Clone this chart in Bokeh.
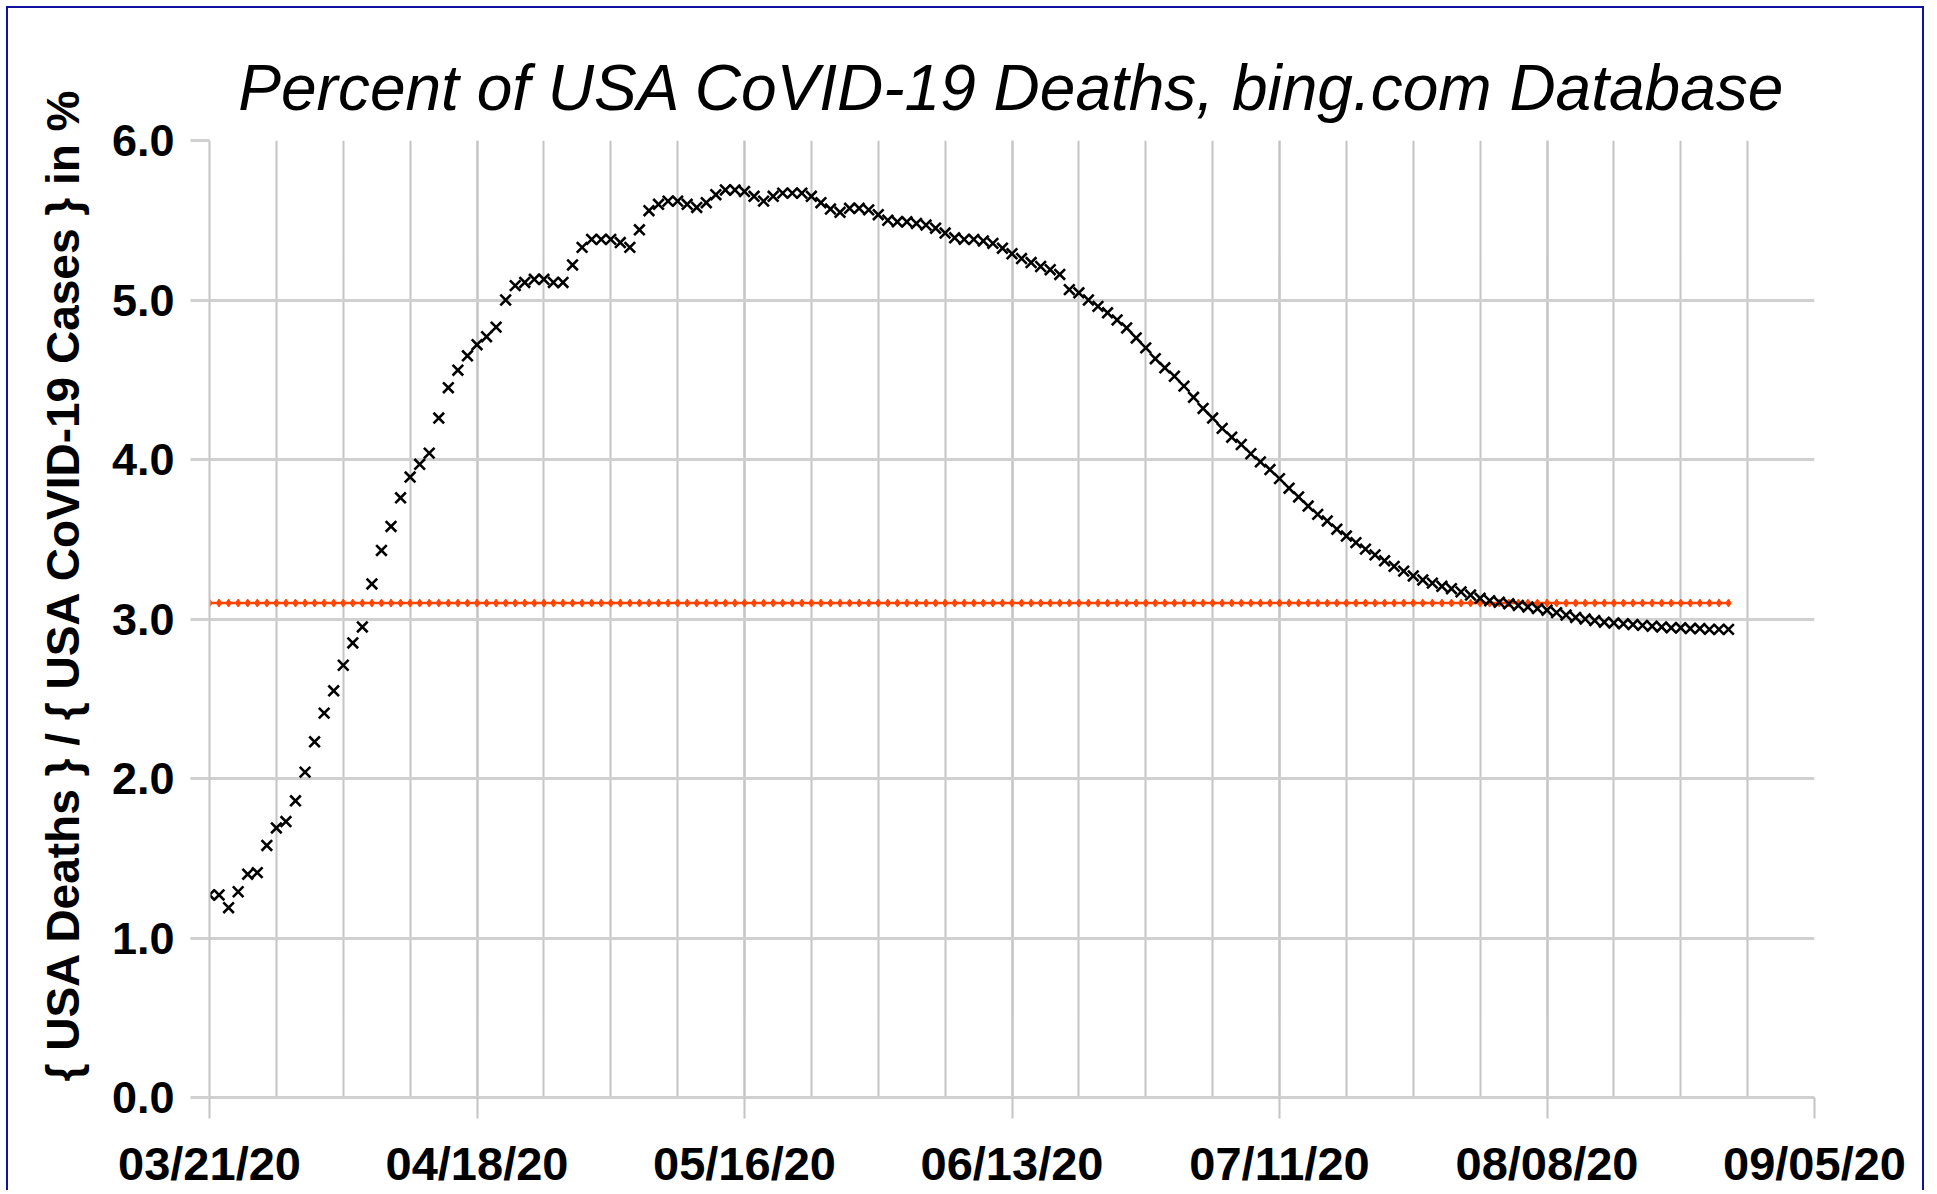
from datetime import datetime, timedelta

from bokeh.plotting import figure
from bokeh.models import (Range1d, FixedTicker, DatetimeTickFormatter,
                          PrintfTickFormatter, Title)
from bokeh.embed import file_html
from bokeh.resources import INLINE

# ---------------- data ----------------
start_date = "03/21/20"
tick_labels = ["03/21/20", "04/18/20", "05/16/20", "06/13/20",
               "07/11/20", "08/08/20", "09/05/20"]
y_ticks = [0.0, 1.0, 2.0, 3.0, 4.0, 5.0, 6.0]

# daily percent of deaths / cases, one value per day starting 03/21/20
pct = [
    1.27, 1.27, 1.19, 1.29, 1.40, 1.41, 1.58, 1.69, 1.73, 1.86,
    2.04, 2.23, 2.41, 2.55, 2.71, 2.85, 2.95, 3.22, 3.43, 3.58,
    3.76, 3.89, 3.97, 4.04, 4.26, 4.45, 4.56, 4.65, 4.72, 4.77,
    4.83, 5.00, 5.09, 5.11, 5.13, 5.13, 5.11, 5.11, 5.22, 5.33,
    5.38, 5.38, 5.38, 5.36, 5.33, 5.44, 5.56, 5.60, 5.62, 5.62,
    5.60, 5.58, 5.61, 5.66, 5.69, 5.69, 5.68, 5.65, 5.62, 5.65,
    5.67, 5.67, 5.67, 5.65, 5.61, 5.57, 5.55, 5.575, 5.575, 5.565,
    5.535, 5.50, 5.49, 5.49, 5.48, 5.47, 5.45, 5.42, 5.39, 5.38,
    5.38, 5.37, 5.355, 5.325, 5.29, 5.26, 5.235, 5.21, 5.19, 5.16,
    5.065, 5.045, 5.00, 4.96, 4.92, 4.875, 4.825, 4.762, 4.70, 4.632,
    4.575, 4.522, 4.46, 4.39, 4.32, 4.26, 4.195, 4.14, 4.094, 4.036,
    3.985, 3.937, 3.88, 3.82, 3.765, 3.708, 3.656, 3.615, 3.563, 3.52,
    3.479, 3.438, 3.402, 3.365, 3.33, 3.30, 3.27, 3.245, 3.225, 3.205,
    3.19, 3.17, 3.15, 3.13, 3.115, 3.105, 3.095, 3.085, 3.075, 3.065,
    3.055, 3.04, 3.025, 3.01, 3.00, 2.99, 2.98, 2.975, 2.97, 2.965,
    2.96, 2.955, 2.95, 2.945, 2.945, 2.94, 2.94, 2.935, 2.935, 2.935,
]
# reference level drawn as red markers, one per day
ref_level = [3.10] * len(pct)

title_text = "Percent of USA CoVID-19 Deaths, bing.com Database"
y_label = "{ USA Deaths } / { USA CoVID-19 Cases } in %"

# ---------------- derived ----------------
t0 = datetime.strptime(start_date, "%m/%d/%y")
dates = [t0 + timedelta(days=i) for i in range(len(pct))]
tick_dates = [datetime.strptime(s, "%m/%d/%y") for s in tick_labels]

def ms(d):
    return (d - datetime(1970, 1, 1)).total_seconds() * 1000.0

major_ms = [ms(d) for d in tick_dates]
n_weeks = int((tick_dates[-1] - tick_dates[0]).days / 7)
minor_ms = [ms(tick_dates[0] + timedelta(days=7 * k)) for k in range(n_weeks + 1)]

FONT = "Liberation Sans"
GRID_V = "#c4c4c4"
GRID_H = "#d0d0d0"
BLUE = "#1212a0"

p = figure(width=1918, height=1184, x_axis_type="datetime",
           x_range=Range1d(tick_dates[0], tick_dates[-1]),
           y_range=Range1d(y_ticks[0], y_ticks[-1]),
           output_backend="svg", toolbar_location=None,
           min_border_left=201, min_border_right=112,
           min_border_top=132, min_border_bottom=95)
p.styles = {"margin-left": "6px", "margin-top": "6px",
            "border-left": f"2px solid {BLUE}",
            "border-top": f"2px solid {BLUE}",
            "border-right": f"2px solid {BLUE}"}
p.background_fill_color = "white"
p.border_fill_color = "white"
p.outline_line_color = None

# title
p.title.text = title_text
p.title.align = "center"
p.title.text_font = FONT
p.title.text_font_style = "italic"
p.title.text_font_size = "64px"
p.title.text_color = "black"
p.title.standoff = 34

# x axis
xt = FixedTicker(ticks=major_ms, minor_ticks=minor_ms)
p.xaxis.ticker = xt
p.xgrid.ticker = xt
fmt = "%m/%d/%y"
p.xaxis.formatter = DatetimeTickFormatter(
    milliseconds=fmt, seconds=fmt, minsec=fmt, minutes=fmt, hourmin=fmt,
    hours=fmt, days=fmt, months=fmt, years=fmt)
p.xaxis.major_label_text_font = FONT
p.xaxis.major_label_text_font_style = "bold"
p.xaxis.major_label_text_font_size = "47px"
p.xaxis.major_label_text_color = "black"
p.xaxis.major_label_standoff = 18
p.xaxis.major_tick_out = 21
p.xaxis.major_tick_in = 0
p.xaxis.minor_tick_out = 0
p.xaxis.minor_tick_in = 0
p.xaxis.major_tick_line_color = GRID_V
p.xaxis.major_tick_line_width = 2
p.xaxis.axis_line_color = GRID_H
p.xaxis.axis_line_width = 3
p.xgrid.grid_line_color = GRID_V
p.xgrid.grid_line_width = 2
p.xgrid.minor_grid_line_color = GRID_V
p.xgrid.minor_grid_line_width = 2

# y axis
yt = FixedTicker(ticks=y_ticks, minor_ticks=[])
p.yaxis.ticker = yt
p.ygrid.ticker = yt
p.yaxis.formatter = PrintfTickFormatter(format="%.1f")
p.yaxis.major_label_text_font = FONT
p.yaxis.major_label_text_font_style = "bold"
p.yaxis.major_label_text_font_size = "45px"
p.yaxis.major_label_text_color = "black"
p.yaxis.major_label_standoff = 16
p.yaxis.major_tick_out = 19
p.yaxis.major_tick_in = 0
p.yaxis.minor_tick_out = 0
p.yaxis.minor_tick_in = 0
p.yaxis.major_tick_line_color = GRID_H
p.yaxis.major_tick_line_width = 3
p.yaxis.axis_line_color = GRID_V
p.yaxis.axis_line_width = 2
p.ygrid.grid_line_color = GRID_H
p.ygrid.grid_line_width = 3

# y label as a left-side title so it can be shifted along the axis
p.add_layout(Title(text=y_label, align="left", offset=16,
                   vertical_align="bottom", text_font=FONT,
                   text_font_style="bold", text_font_size="46px",
                   text_color="black", standoff=40), "left")

# series
p.line(dates, ref_level, line_color="#ff4500", line_width=2.5)
p.scatter(dates, ref_level, marker="diamond", size=8,
          fill_color="#ff4500", line_color="#ff4500")
p.scatter(dates, pct, marker="x", size=15, line_color="black", line_width=2.6)

open("out.html", "w").write(file_html(p, INLINE))
